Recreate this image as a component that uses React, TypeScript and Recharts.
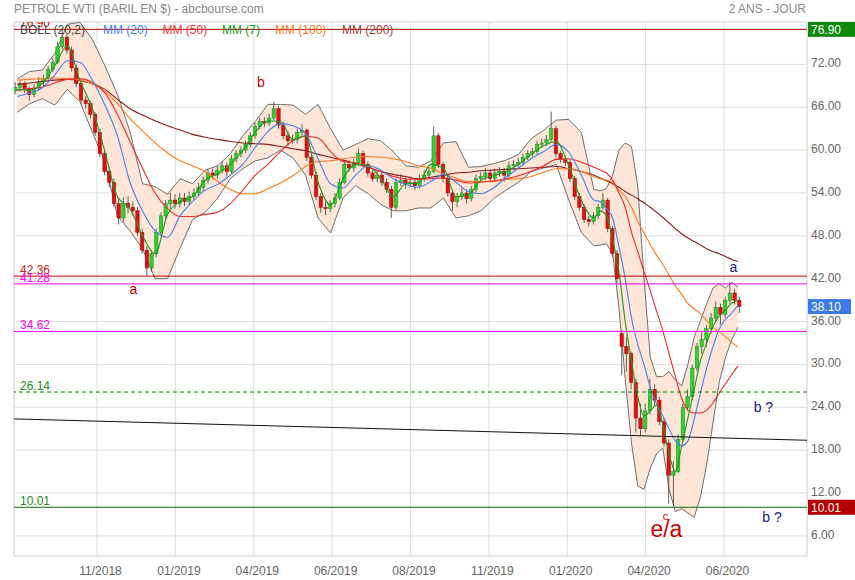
import React from 'react';
import {
  Area,
  Bar,
  CartesianGrid,
  ComposedChart,
  Line,
  ReferenceArea,
  ReferenceDot,
  ReferenceLine,
  XAxis,
  YAxis,
} from 'recharts';

const FONT = '"Liberation Sans", Arial, Helvetica, sans-serif';
const W = 855;
const H = 580;
const MARGIN = { top: 22, right: 0, bottom: 0, left: 14 };
const X_DOMAIN: [number, number] = [0, 506];
const Y_DOMAIN: [number, number] = [3.19, 77.93];

// x axis = trading session index
const xTicks = [53, 103, 153, 203, 253, 303, 353, 403, 453];
const xTickLabels = ['11/2018', '01/2019', '04/2019', '06/2019', '08/2019', '11/2019', '01/2020', '04/2020', '06/2020'];
const yTicks = [6, 12, 18, 24, 30, 36, 42, 48, 54, 60, 66, 72];

// horizontal levels drawn on the chart
const levels = [76.9, 42.36, 41.28, 34.62, 26.14, 10.01];
const lastClose = 38.1;
// long trend line: value at first and last session of the axis
const trendDays = [0, 506];
const trendValues = [22.38, 19.39];

// one candle every 3 sessions : [open, high, low, close]
const CANDLE_FIRST_DAY = 1;
const CANDLE_STEP = 3;
const candles: number[][] = [
  [68.3, 69.5, 67.8, 68.8], [68.8, 69.8, 68.2, 69.3], [69.3, 69.6, 68.0, 68.6], [68.6, 68.9, 66.9, 67.8],
  [67.8, 69.2, 67.4, 68.7], [68.7, 70.2, 68.3, 69.5], [69.5, 70.6, 69.0, 70.0], [70.0, 71.8, 69.6, 71.3],
  [71.3, 72.9, 70.9, 72.3], [72.3, 75.2, 72.0, 74.5], [74.5, 76.9, 74.2, 75.8], [75.8, 76.2, 73.5, 74.0],
  [74.0, 74.5, 71.0, 71.5], [71.5, 72.0, 68.8, 69.3], [69.3, 69.8, 66.5, 67.0], [67.0, 67.6, 65.8, 66.5],
  [66.5, 66.9, 64.4, 65.0], [65.0, 65.3, 62.0, 62.5], [62.5, 63.0, 59.0, 59.5], [59.5, 60.2, 56.5, 57.0],
  [57.0, 57.6, 54.8, 55.5], [55.5, 56.0, 52.0, 52.5], [52.5, 53.2, 49.6, 50.5], [50.5, 53.4, 50.0, 52.5],
  [52.5, 53.5, 51.2, 52.0], [52.0, 52.8, 50.8, 51.5], [51.5, 52.0, 48.0, 48.5], [48.5, 49.0, 45.5, 46.0],
  [46.0, 46.6, 42.4, 43.5], [43.5, 46.0, 43.0, 45.5], [45.5, 49.0, 45.0, 48.5], [48.5, 51.3, 48.0, 50.8],
  [50.8, 53.0, 50.3, 52.5], [52.5, 54.0, 51.8, 53.0], [53.0, 53.8, 51.8, 52.5], [52.5, 54.0, 52.0, 53.3],
  [53.3, 54.0, 52.2, 52.8], [52.8, 54.2, 52.4, 53.5], [53.5, 54.6, 53.0, 54.0], [54.0, 55.4, 53.6, 54.8],
  [54.8, 56.3, 54.3, 55.8], [55.8, 57.3, 55.3, 56.8], [56.8, 57.4, 55.9, 56.5], [56.5, 57.8, 56.0, 57.2],
  [57.2, 58.4, 56.7, 57.8], [57.8, 58.2, 56.3, 57.0], [57.0, 59.3, 56.8, 58.8], [58.8, 60.0, 58.3, 59.5],
  [59.5, 60.5, 59.0, 60.0], [60.0, 61.3, 59.6, 60.8], [60.8, 62.5, 60.4, 62.0], [62.0, 63.8, 61.6, 63.3],
  [63.3, 64.5, 62.9, 64.0], [64.0, 64.6, 63.2, 63.8], [63.8, 65.1, 63.4, 64.5], [64.5, 66.8, 64.2, 65.8],
  [65.8, 66.2, 63.0, 63.5], [63.5, 64.0, 61.5, 62.0], [62.0, 62.6, 60.6, 61.3], [61.3, 62.2, 60.8, 61.5],
  [61.5, 63.0, 61.0, 62.5], [62.5, 63.6, 62.0, 62.8], [62.8, 63.0, 58.5, 59.0], [59.0, 59.4, 56.0, 56.5],
  [56.5, 57.0, 53.0, 53.5], [53.5, 54.0, 51.2, 52.0], [52.0, 52.8, 50.9, 51.8], [51.8, 53.0, 51.3, 52.5],
  [52.5, 54.0, 52.0, 53.3], [53.3, 56.0, 53.0, 55.5], [55.5, 58.6, 55.2, 58.0], [58.0, 58.6, 57.0, 57.5],
  [57.5, 58.8, 57.0, 58.2], [58.2, 60.2, 57.8, 59.5], [59.5, 59.9, 57.6, 58.0], [58.0, 58.4, 56.3, 56.8],
  [56.8, 57.2, 55.6, 56.0], [56.0, 57.2, 55.5, 56.5], [56.5, 57.0, 55.0, 55.5], [55.5, 56.0, 54.0, 54.5],
  [54.5, 55.0, 50.5, 52.0], [52.0, 56.0, 51.6, 55.5], [55.5, 56.6, 55.0, 55.8], [55.8, 56.2, 54.6, 55.3],
  [55.3, 56.3, 54.8, 55.5], [55.5, 56.0, 54.4, 55.0], [55.0, 56.6, 54.6, 56.0], [56.0, 57.2, 55.6, 56.5],
  [56.5, 57.6, 56.0, 57.0], [57.0, 63.3, 56.8, 62.0], [62.0, 62.4, 57.5, 58.0], [58.0, 58.4, 55.5, 56.0],
  [56.0, 56.4, 53.5, 54.0], [54.0, 54.4, 51.5, 52.8], [52.8, 54.0, 52.0, 53.5], [53.5, 54.7, 53.0, 54.0],
  [54.0, 54.5, 52.5, 53.2], [53.2, 55.0, 52.8, 54.5], [54.5, 56.6, 54.1, 56.0], [56.0, 56.9, 55.5, 56.3],
  [56.3, 57.5, 55.8, 56.8], [56.8, 57.3, 55.5, 56.0], [56.0, 57.4, 55.6, 56.8], [56.8, 57.6, 56.3, 57.0],
  [57.0, 57.5, 55.6, 56.5], [56.5, 58.4, 56.2, 57.8], [57.8, 58.6, 57.3, 58.0], [58.0, 58.9, 57.6, 58.3],
  [58.3, 59.5, 57.9, 59.0], [59.0, 60.0, 58.6, 59.5], [59.5, 60.3, 59.1, 59.8], [59.8, 61.3, 59.4, 60.8],
  [60.8, 61.6, 60.3, 61.0], [61.0, 62.1, 60.6, 61.5], [61.5, 65.4, 61.2, 63.0], [63.0, 63.4, 59.0, 59.5],
  [59.5, 59.9, 58.2, 58.7], [58.7, 59.2, 57.8, 58.3], [58.3, 58.7, 55.5, 56.0], [56.0, 56.4, 53.0, 53.5],
  [53.5, 54.0, 51.5, 52.0], [52.0, 52.4, 49.8, 50.3], [50.3, 50.8, 49.3, 50.0], [50.0, 51.3, 49.6, 50.8],
  [50.8, 52.5, 50.4, 52.0], [52.0, 54.0, 51.6, 53.0], [53.0, 53.3, 48.5, 49.0], [49.0, 49.4, 45.0, 45.5],
  [45.5, 46.0, 41.2, 42.0], [34.3, 34.8, 28.5, 32.5], [32.5, 33.8, 29.0, 31.5], [31.5, 31.8, 26.5, 27.5],
  [27.5, 28.0, 20.5, 22.5], [22.5, 24.5, 20.0, 21.0], [21.0, 24.5, 20.5, 23.5], [23.5, 28.0, 23.0, 26.5],
  [26.5, 27.2, 24.3, 25.0], [25.0, 25.5, 21.5, 22.0], [22.0, 22.5, 18.5, 19.0], [19.0, 19.5, 10.5, 14.5],
  [14.5, 16.5, 10.2, 15.0], [15.0, 20.2, 14.8, 19.5], [19.5, 24.5, 19.2, 24.0], [24.0, 26.5, 23.5, 25.5],
  [25.5, 30.0, 25.0, 29.5], [29.5, 33.0, 29.0, 32.5], [32.5, 34.5, 31.5, 33.5], [33.5, 35.5, 32.5, 35.0],
  [35.0, 37.2, 34.3, 36.5], [36.5, 38.8, 36.0, 38.0], [38.0, 38.5, 35.6, 37.0], [37.0, 39.5, 36.5, 39.0],
  [39.0, 41.5, 38.5, 40.0], [40.0, 40.6, 38.4, 39.0], [39.0, 39.5, 37.2, 38.1],
];

// indicators, read at these sessions
const indicatorDays = [
  2, 10, 18, 26, 34, 42, 50, 58, 66, 74, 82, 90, 98, 106, 114, 122, 130, 138, 146, 154,
  162, 170, 178, 186, 194, 202, 210, 218, 226, 234, 242, 250, 258, 266, 274, 282, 290, 298, 306, 314,
  322, 330, 338, 346, 354, 362, 370, 374, 378, 382, 386, 390, 394, 398, 402, 406, 410, 414, 418, 422,
  426, 430, 434, 438, 442, 446, 450, 454, 458, 462,
];
const bollUp = [
  70.0, 71.0, 71.2, 73.5, 77.6, 77.9, 75.5, 71.8, 67.8, 62.6, 55.3, 54.9, 53.8, 56.0, 55.3, 57.2, 57.8, 59.5, 62.0, 64.0,
  66.4, 66.4, 66.3, 65.0, 66.4, 63.0, 60.0, 60.8, 61.6, 61.3, 59.8, 57.8, 57.6, 58.5, 61.0, 61.2, 57.6, 57.7, 58.1, 58.6,
  59.4, 61.6, 62.8, 64.2, 64.3, 62.5, 54.5, 54.3, 54.6, 56.5, 60.0, 61.0, 60.5, 55.0, 42.0, 31.0, 28.3, 28.3, 29.0, 27.8,
  27.0, 30.0, 33.8, 36.1, 38.5, 40.7, 41.3, 40.7, 41.5, 40.8,
];
const bollLow = [
  65.3, 66.5, 67.2, 66.3, 68.5, 66.8, 62.5, 58.3, 50.8, 48.7, 46.2, 42.0, 42.0, 46.3, 50.3, 51.3, 53.3, 56.0, 57.4, 58.5,
  58.9, 60.0, 58.9, 56.5, 50.5, 48.4, 53.3, 55.0, 53.9, 52.4, 51.5, 51.5, 51.9, 51.9, 53.3, 50.5, 50.8, 51.5, 53.2, 54.4,
  55.5, 57.0, 57.5, 58.0, 53.0, 48.5, 46.6, 46.7, 46.9, 45.5, 38.0, 28.0, 19.0, 13.0, 12.5, 15.5, 17.5, 18.3, 12.5, 9.4,
  9.8, 9.2, 8.6, 11.4, 16.0, 21.8, 27.5, 31.0, 33.5, 35.2,
];
const mm7 = [
  68.5, 68.4, 69.3, 71.8, 74.6, 69.8, 65.8, 59.8, 53.5, 51.8, 48.0, 45.5, 51.0, 52.8, 53.5, 55.8, 56.7, 58.0, 60.0, 62.5,
  64.1, 64.0, 61.5, 62.0, 55.5, 52.3, 56.0, 58.0, 57.8, 56.0, 53.5, 55.3, 55.4, 58.0, 57.5, 53.5, 53.8, 55.8, 56.4, 57.0,
  58.0, 59.4, 60.6, 61.2, 57.8, 53.0, 50.5, 51.5, 50.8, 47.5, 43.0, 36.0, 30.5, 25.5, 22.8, 23.5, 24.3, 21.5, 17.5, 15.0,
  18.5, 22.5, 26.5, 30.5, 33.0, 35.3, 36.8, 37.6, 38.6, 38.9,
];
const mm20 = [
  67.5, 68.0, 68.7, 70.5, 72.5, 72.3, 69.8, 66.3, 62.0, 55.5, 51.5, 48.7, 47.8, 50.8, 52.8, 54.4, 55.2, 56.5, 58.0, 60.4,
  62.6, 63.7, 63.4, 62.3, 58.8, 55.3, 54.7, 56.5, 57.8, 57.2, 56.0, 55.2, 54.8, 55.6, 56.6, 55.5, 54.2, 53.9, 54.7, 56.2,
  57.5, 58.8, 59.8, 60.8, 59.7, 56.5, 53.0, 52.8, 51.8, 50.5, 46.5, 42.0, 36.5, 32.8, 30.0, 26.8, 24.5, 22.8, 21.0, 19.3,
  18.6, 19.3, 22.3, 26.0, 29.5, 32.5, 35.0, 36.3, 37.2, 38.3,
];
const mm50 = [
  68.4, 68.6, 68.8, 69.4, 69.9, 70.0, 69.5, 68.0, 65.0, 61.2, 57.5, 54.0, 51.8, 50.7, 50.7, 51.0, 51.3, 52.5, 54.4, 56.5,
  58.0, 59.8, 61.3, 61.9, 61.7, 59.8, 58.4, 58.2, 57.6, 57.0, 56.3, 56.0, 55.9, 56.0, 56.1, 55.8, 55.4, 55.5, 55.7, 56.0,
  56.4, 57.0, 57.8, 58.7, 58.8, 58.3, 57.6, 57.2, 56.8, 55.8, 54.0, 52.0, 48.5, 45.8, 43.0, 40.3, 37.5, 34.7, 31.5, 28.3,
  25.3, 23.6, 23.2, 23.2, 23.6, 24.6, 26.0, 27.3, 28.6, 29.8,
];
const mm100 = [
  69.8, 69.9, 70.0, 70.1, 70.0, 69.8, 69.3, 68.2, 66.5, 64.4, 62.7, 61.0, 59.6, 58.5, 57.8, 57.0, 55.6, 54.5, 53.9, 53.9,
  54.6, 55.4, 56.4, 57.7, 58.4, 58.5, 58.8, 59.0, 59.1, 59.0, 58.8, 58.4, 57.8, 57.5, 56.7, 56.1, 55.6, 55.6, 55.6, 55.9,
  56.0, 56.3, 56.9, 57.4, 57.4, 57.0, 56.3, 56.0, 55.8, 55.5, 54.4, 53.5, 52.0, 50.0, 48.4, 46.8, 45.3, 44.0, 42.5, 41.0,
  39.8, 38.5, 37.8, 37.1, 36.1, 35.2, 34.6, 33.9, 33.1, 32.4,
];
const mm200 = [
  69.2, 69.4, 69.6, 69.8, 69.9, 69.7, 69.3, 68.5, 67.1, 65.8, 64.9, 64.1, 63.4, 62.8, 62.2, 61.8, 61.5, 61.2, 61.0, 60.9,
  60.8, 60.5, 60.2, 59.9, 59.4, 59.0, 58.6, 58.1, 57.6, 57.0, 56.6, 56.3, 56.0, 56.2, 56.5, 56.8, 56.9, 57.1, 57.2, 57.3,
  57.4, 57.5, 57.6, 57.7, 57.4, 57.0, 56.5, 56.1, 55.7, 55.3, 54.8, 54.2, 53.7, 53.2, 52.6, 52.0, 51.3, 50.6, 49.8, 49.0,
  48.3, 47.7, 47.2, 46.7, 46.2, 45.8, 45.5, 45.1, 44.7, 44.4,
];

const candleRows = candles.map(([o, h, l, c], i) => ({
  day: CANDLE_FIRST_DAY + i * CANDLE_STEP,
  o,
  h,
  l,
  c,
  range: [l, h],
}));

const indicatorRows = indicatorDays.map((day, i) => ({
  day,
  boll: [bollLow[i], bollUp[i]],
  mm7: mm7[i],
  mm20: mm20[i],
  mm50: mm50[i],
  mm100: mm100[i],
  mm200: mm200[i],
}));

const RED = '#cc0000';
const NAVY = '#1a1a8c';

function XTick({ x, y, payload }: any) {
  const i = xTicks.indexOf(payload.value);
  return (
    <text x={x + 3.5} y={y + 18.5} textAnchor="middle" fill="#666" fontSize={12} fontFamily={FONT}>
      {xTickLabels[i]}
    </text>
  );
}

function YTick({ x, y, payload }: any) {
  return (
    <text x={x + 4} y={y + 3} fill="#666" fontSize={12} fontFamily={FONT}>
      {Number(payload.value).toFixed(2)}
    </text>
  );
}

function Candle(props: any) {
  const { x, y, width, height, payload } = props;
  if (!payload || !Number.isFinite(y) || !Number.isFinite(height)) return null;
  const { o, h, l, c } = payload;
  const top = Math.min(y, y + height);
  const span = Math.abs(height);
  const k = h > l ? span / (h - l) : 0;
  const cx = x + width / 2;
  const up = c >= o;
  const bodyTop = top + (h - Math.max(o, c)) * k;
  const bodyH = Math.max(1, Math.abs(c - o) * k);
  return (
    <g>
      <line x1={cx} x2={cx} y1={top} y2={top + span} stroke="#3a3a3a" strokeWidth={0.8} />
      <rect
        x={cx - 1.7}
        y={bodyTop}
        width={3.4}
        height={bodyH}
        fill={up ? '#2fd02f' : '#e01010'}
        stroke={up ? '#178a17' : '#a00000'}
        strokeWidth={0.5}
      />
    </g>
  );
}

function levelLabel(
  value: number,
  color: string,
  opts: { badge?: string; badgeWidth?: number; hideLeft?: boolean; clip?: boolean } = {},
) {
  const text = value.toFixed(2);
  const id = `lvl-clip-${text.replace('.', '-')}`;
  return (props: any) => {
    const { x = 0, y = 0, width = 0 } = props.viewBox ?? {};
    return (
      <g fontFamily={FONT} fontSize={12}>
        {opts.clip && (
          <defs>
            <clipPath id={id}>
              <rect x={x} y={y - 7.4} width={60} height={20} />
            </clipPath>
          </defs>
        )}
        {!opts.hideLeft && (
          <text x={x + 6} y={y - 2} fill={color} clipPath={opts.clip ? `url(#${id})` : undefined}>
            {text}
          </text>
        )}
        {opts.badge && (
          <g>
            <rect x={x + width + 1} y={y - 7.5} width={opts.badgeWidth ?? 47} height={15} fill={opts.badge} />
            <text x={x + width + 4} y={y + 4.4} fill="#fff">
              {text}
            </text>
          </g>
        )}
      </g>
    );
  };
}

function noteLabel(text: string, color: string, size: number) {
  return (props: any) => {
    const { x = 0, y = 0, width = 0, height = 0 } = props.viewBox ?? {};
    return (
      <text
        x={x + width / 2}
        y={y + height / 2}
        textAnchor="middle"
        dominantBaseline="central"
        fill={color}
        fontSize={size}
        fontFamily={FONT}
      >
        {text}
      </text>
    );
  };
}

function axes(showTicks: boolean) {
  return [
    <XAxis
      key="x"
      dataKey="day"
      type="number"
      domain={X_DOMAIN}
      ticks={xTicks}
      interval={0}
      height={24}
      tickSize={0}
      tickMargin={0}
      axisLine={false}
      tick={showTicks ? <XTick /> : false}
      allowDataOverflow
    />,
    <YAxis
      key="y"
      orientation="right"
      type="number"
      domain={Y_DOMAIN}
      ticks={yTicks}
      interval={0}
      width={48}
      tickSize={0}
      tickMargin={0}
      axisLine={false}
      tick={showTicks ? <YTick /> : false}
      allowDataOverflow
    />,
  ];
}

const layer: React.CSSProperties = { position: 'absolute', left: 0, top: 0 };

export default function App() {
  return (
    <div style={{ position: 'absolute', left: 0, top: 0, width: W, height: H, background: '#fff', fontFamily: FONT }}>
      {/* grid, frame and bollinger band */}
      <div style={layer}>
        <ComposedChart width={W} height={H} data={indicatorRows} margin={MARGIN}>
          {axes(true)}
          <CartesianGrid stroke="#dddddd" />
          <ReferenceArea
            x1={X_DOMAIN[0]}
            x2={X_DOMAIN[1]}
            y1={Y_DOMAIN[0]}
            y2={Y_DOMAIN[1]}
            fill="none"
            stroke="#dddddd"
            ifOverflow="visible"
          />
          <Area
            dataKey="boll"
            type="linear"
            fill="#fde6d8"
            fillOpacity={1}
            stroke="#6e6e6e"
            strokeWidth={1}
            dot={false}
            activeDot={false}
            isAnimationActive={false}
          />
        </ComposedChart>
      </div>

      {/* candles */}
      <div style={layer}>
        <ComposedChart width={W} height={H} data={candleRows} margin={MARGIN}>
          {axes(false)}
          <Bar dataKey="range" barSize={4} shape={<Candle />} isAnimationActive={false} />
        </ComposedChart>
      </div>

      {/* moving averages, levels, notes */}
      <div style={layer}>
        <ComposedChart width={W} height={H} data={indicatorRows} margin={MARGIN}>
          {axes(false)}
          <Line dataKey="mm200" type="monotone" stroke="#8c1c1c" strokeWidth={1.1} dot={false} activeDot={false} isAnimationActive={false} />
          <Line dataKey="mm100" type="monotone" stroke="#ff7a1a" strokeWidth={1.1} dot={false} activeDot={false} isAnimationActive={false} />
          <Line dataKey="mm50" type="monotone" stroke="#f02828" strokeWidth={1.1} dot={false} activeDot={false} isAnimationActive={false} />
          <Line dataKey="mm20" type="monotone" stroke="#4a7cf0" strokeWidth={1.1} dot={false} activeDot={false} isAnimationActive={false} />
          <Line dataKey="mm7" type="monotone" stroke="#1f9a1f" strokeWidth={1.1} dot={false} activeDot={false} isAnimationActive={false} />

          <ReferenceLine y={levels[0]} stroke="#b00000" label={levelLabel(levels[0], RED, { badge: '#0b8a0b', clip: true })} />
          <ReferenceLine y={levels[1]} stroke="#c00000" label={levelLabel(levels[1], '#cc2020')} />
          <ReferenceLine y={levels[2]} stroke="#ff00ff" label={levelLabel(levels[2], '#ff00ff')} />
          <ReferenceLine y={levels[3]} stroke="#ff00ff" label={levelLabel(levels[3], '#ff00ff')} />
          <ReferenceLine y={levels[4]} stroke="#008000" strokeDasharray="4 3" label={levelLabel(levels[4], '#228b22')} />
          <ReferenceLine y={levels[5]} stroke="#0a6e0a" label={levelLabel(levels[5], '#228b22', { badge: '#b50000' })} />
          <ReferenceLine
            y={lastClose}
            strokeOpacity={0}
            label={levelLabel(lastClose, '#fff', { badge: '#3b7be9', badgeWidth: 43, hideLeft: true })}
          />
          <ReferenceLine
            segment={[
              { x: trendDays[0], y: trendValues[0] },
              { x: trendDays[1], y: trendValues[1] },
            ]}
            stroke="#111"
          />

          <ReferenceDot x={157.6} y={69.6} r={0} fill="none" stroke="none" label={noteLabel('b', RED, 14)} />
          <ReferenceDot x={76.2} y={40.6} r={0} fill="none" stroke="none" label={noteLabel('a', RED, 14)} />
          <ReferenceDot x={459.1} y={43.7} r={0} fill="none" stroke="none" label={noteLabel('a', NAVY, 14)} />
          <ReferenceDot x={478.2} y={24.06} r={0} fill="none" stroke="none" label={noteLabel('b ?', NAVY, 14)} />
          <ReferenceDot x={483.7} y={8.65} r={0} fill="none" stroke="none" label={noteLabel('b ?', NAVY, 14)} />
          <ReferenceDot x={415.7} y={8.8} r={0} fill="none" stroke="none" label={noteLabel('c', RED, 11)} />
          <ReferenceDot x={416.3} y={6.97} r={0} fill="none" stroke="none" label={noteLabel('e/a', RED, 23)} />
        </ComposedChart>
      </div>

      {/* title and legend */}
      <svg width={W} height={40} style={{ ...layer, pointerEvents: 'none' }} fontFamily={FONT} fontSize={12}>
        <text x={14} y={13} fill="#888">PETROLE WTI (BARIL EN $) - abcbourse.com</text>
        <text x={806} y={13} fill="#888" textAnchor="end">2 ANS - JOUR</text>
        <text x={20} y={34} fill="#444">BOLL (20,2)</text>
        <text x={103} y={34} fill="#4a7cf0">MM (20)</text>
        <text x={162.5} y={34} fill="#f03c3c">MM (50)</text>
        <text x={222} y={34} fill="#1f9a1f">MM (7)</text>
        <text x={275} y={34} fill="#ff7a1a">MM (100)</text>
        <text x={342} y={34} fill="#a03c3c">MM (200)</text>
      </svg>
    </div>
  );
}
